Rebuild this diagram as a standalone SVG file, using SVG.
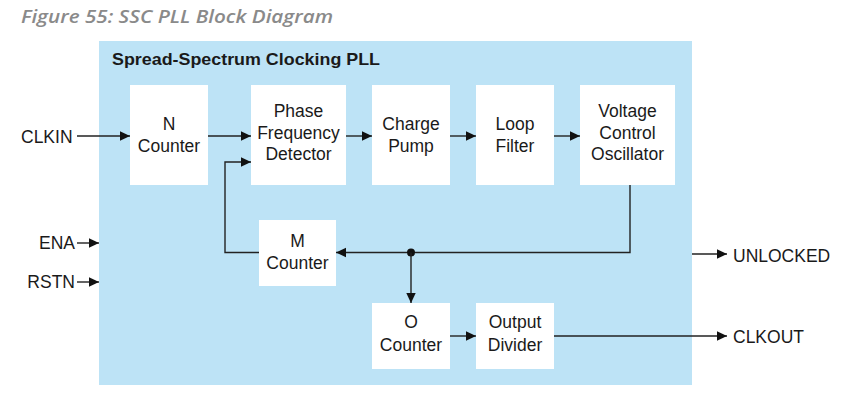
<svg xmlns="http://www.w3.org/2000/svg" width="854" height="402" viewBox="0 0 854 402">
<defs>
<marker id="ah" markerWidth="11" markerHeight="11" refX="10" refY="5" orient="auto" markerUnits="userSpaceOnUse">
<path d="M0,0.3 L10,5 L0,9.7 Z" fill="#111"/>
</marker>
</defs>
<style>
.lbl{font-family:"Liberation Sans",Arial,sans-serif;font-size:17.5px;fill:#1a1a1a}
.box{fill:#ffffff}
.ln{fill:none;stroke:#222;stroke-width:1.4}
</style>
<rect width="854" height="402" fill="#ffffff"/>
<text x="21" y="23" font-family="'Open Sans',sans-serif" font-style="italic" font-weight="600" font-size="17.5" fill="#8a8a8a" textLength="312" lengthAdjust="spacingAndGlyphs">Figure 55: SSC PLL Block Diagram</text>
<g id="pll">
<rect x="99" y="41" width="593" height="344" fill="#bde3f6"/>
<text x="112" y="65" font-family="'Liberation Sans',Arial,sans-serif" font-weight="bold" font-size="17" fill="#1a1a1a" textLength="268" lengthAdjust="spacingAndGlyphs">Spread-Spectrum Clocking PLL</text>
</g>
<g id="n-counter">
<rect class="box" x="130" y="85" width="78" height="100"/>
<text class="lbl" text-anchor="middle" x="169" y="130">N</text>
<text class="lbl" text-anchor="middle" x="169" y="152">Counter</text>
</g>
<g id="pfd">
<rect class="box" x="251" y="85" width="95" height="100"/>
<text class="lbl" text-anchor="middle" x="298.5" y="117">Phase</text>
<text class="lbl" text-anchor="middle" x="298.5" y="138.5">Frequency</text>
<text class="lbl" text-anchor="middle" x="298.5" y="160">Detector</text>
</g>
<g id="charge-pump">
<rect class="box" x="372" y="85" width="78" height="100"/>
<text class="lbl" text-anchor="middle" x="411" y="130">Charge</text>
<text class="lbl" text-anchor="middle" x="411" y="152">Pump</text>
</g>
<g id="loop-filter">
<rect class="box" x="476" y="85" width="78" height="100"/>
<text class="lbl" text-anchor="middle" x="515" y="130">Loop</text>
<text class="lbl" text-anchor="middle" x="515" y="152">Filter</text>
</g>
<g id="vco">
<rect class="box" x="580" y="85" width="95" height="100"/>
<text class="lbl" text-anchor="middle" x="627.5" y="117">Voltage</text>
<text class="lbl" text-anchor="middle" x="627.5" y="138.5">Control</text>
<text class="lbl" text-anchor="middle" x="627.5" y="160">Oscillator</text>
</g>
<g id="m-counter">
<rect class="box" x="259" y="220" width="77" height="66"/>
<text class="lbl" text-anchor="middle" x="297.5" y="247">M</text>
<text class="lbl" text-anchor="middle" x="297.5" y="268.5">Counter</text>
</g>
<g id="o-counter">
<rect class="box" x="372" y="303" width="78" height="66"/>
<text class="lbl" text-anchor="middle" x="411" y="328">O</text>
<text class="lbl" text-anchor="middle" x="411" y="351">Counter</text>
</g>
<g id="output-divider">
<rect class="box" x="476" y="303" width="78" height="66"/>
<text class="lbl" text-anchor="middle" x="515" y="328">Output</text>
<text class="lbl" text-anchor="middle" x="515" y="351">Divider</text>
</g>
<g id="ports">
<text class="lbl" x="21" y="142.5">CLKIN</text>
<text class="lbl" text-anchor="end" x="75" y="249">ENA</text>
<text class="lbl" text-anchor="end" x="75" y="288">RSTN</text>
<text class="lbl" x="733" y="261.5">UNLOCKED</text>
<text class="lbl" x="733" y="343">CLKOUT</text>
</g>
<g id="connectors">
<line class="ln" x1="77" y1="136" x2="130" y2="136" marker-end="url(#ah)"/>
<line class="ln" x1="208" y1="136" x2="251" y2="136" marker-end="url(#ah)"/>
<line class="ln" x1="346" y1="136" x2="372" y2="136" marker-end="url(#ah)"/>
<line class="ln" x1="450" y1="136" x2="476" y2="136" marker-end="url(#ah)"/>
<line class="ln" x1="554" y1="136" x2="580" y2="136" marker-end="url(#ah)"/>
<polyline class="ln" points="630,185 630,252.5 336,252.5" marker-end="url(#ah)"/>
<polyline class="ln" points="259,252.5 225,252.5 225,162 251,162" marker-end="url(#ah)"/>
<circle cx="411" cy="252.5" r="4" fill="#111"/>
<line class="ln" x1="411" y1="252.5" x2="411" y2="303" marker-end="url(#ah)"/>
<line class="ln" x1="450" y1="336" x2="476" y2="336" marker-end="url(#ah)"/>
<line class="ln" x1="554" y1="336" x2="727" y2="336" marker-end="url(#ah)"/>
<line class="ln" x1="692" y1="254" x2="727" y2="254" marker-end="url(#ah)"/>
<line class="ln" x1="77" y1="243" x2="99" y2="243" marker-end="url(#ah)"/>
<line class="ln" x1="77" y1="282" x2="99" y2="282" marker-end="url(#ah)"/>
</g>
</svg>
